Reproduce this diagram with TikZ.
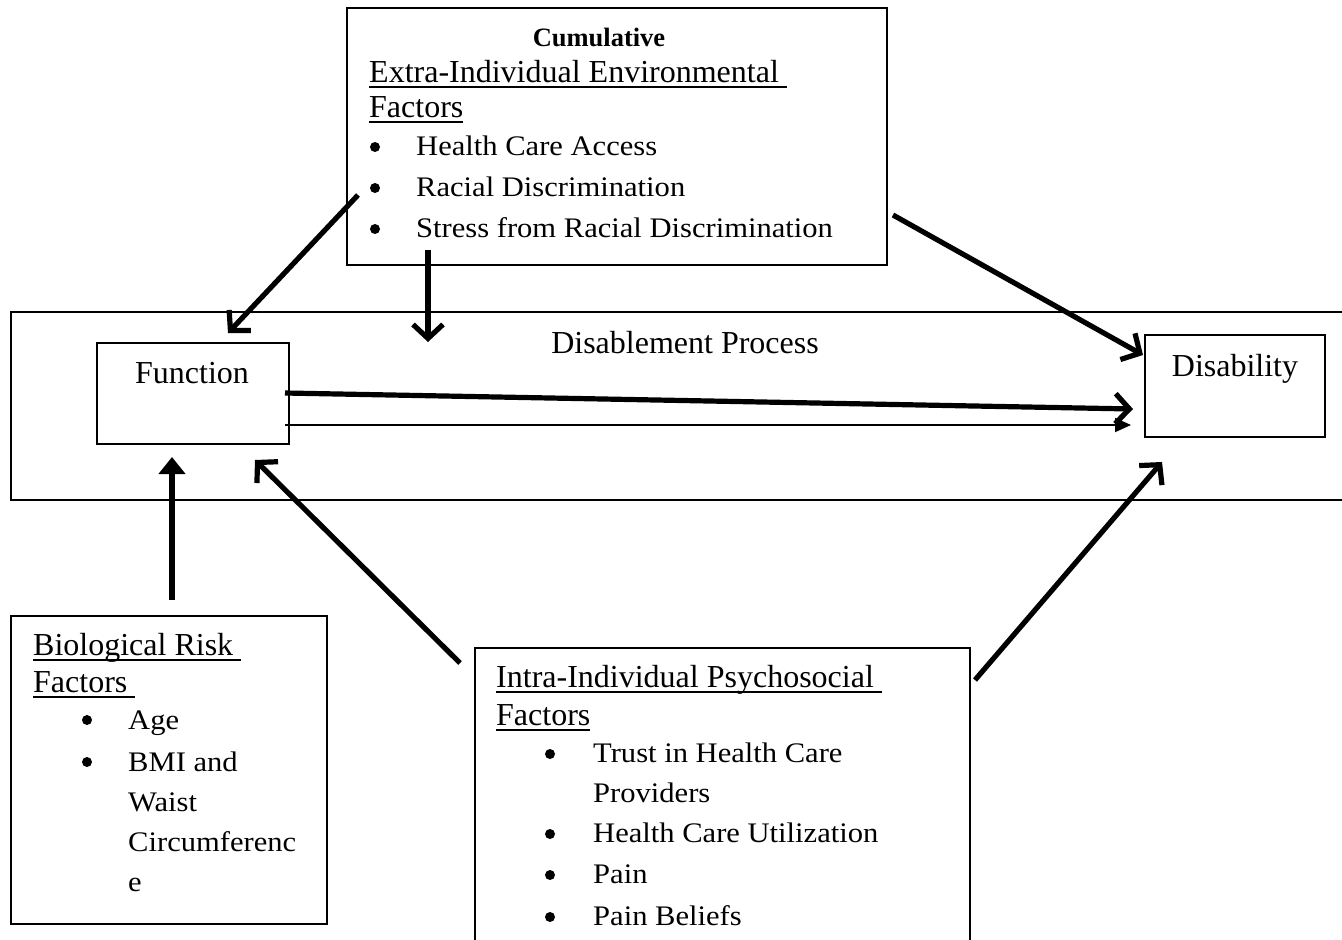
\documentclass[tikz,border=0pt]{standalone}
\usepackage{fontspec}
\setmainfont{Liberation Serif}
\newfontfamily\bodyfont[FakeStretch=1.08]{Liberation Serif}
\usetikzlibrary{arrows.meta}
\newcommand{\ulx}[1]{\setbox0\hbox{#1}\rlap{\rule[-0.19em]{\wd0}{0.065em}}\box0}
\begin{document}
\begin{tikzpicture}[x=1pt,y=-1pt,
  box/.style={draw, line width=1.8pt, inner sep=0pt},
  hd/.style={anchor=base west, inner sep=0pt, font=\fontsize{32}{38}\selectfont},
  hdc/.style={anchor=base, inner sep=0pt, font=\fontsize{32}{38}\selectfont},
  bl/.style={anchor=base west, inner sep=0pt, font=\bodyfont\fontsize{28.3}{34}\selectfont},
  dot/.style={circle, fill, inner sep=0pt, minimum size=10pt},
  barb/.style={line width=5.2pt, -{Straight Barb[length=14pt,width=30pt]}},
  tri/.style={line width=5.2pt, -{Triangle[length=17pt,width=26pt]}},
  thin/.style={line width=1.9pt, -{Triangle[length=16pt,width=14pt]}}]
\useasboundingbox (0,0) rectangle (1342,940);
\clip (0,0) rectangle (1342,940);
\fill[white] (0,0) rectangle (1342,940);
% boxes
\node (top)  [box, minimum width=540pt, minimum height=257pt] at (617,136.5) {};
\node (proc) [box, minimum width=1349pt, minimum height=188pt] at (685.5,406) {};
\node (func) [box, minimum width=192pt, minimum height=101pt] at (193,393.5) {};
\node (dis)  [box, minimum width=180pt, minimum height=102pt] at (1235,386) {};
\node (bio)  [box, minimum width=316pt, minimum height=308pt] at (169,770) {};
\node (psy)  [box, minimum width=495pt, minimum height=312pt] at (722.5,804) {};
% top box text
\node (cum) [anchor=base, inner sep=0pt, font=\bfseries\fontsize{26.5}{32}\selectfont] at (599,46) {Cumulative};
\node (ex1) [hd] at (369,82) {\ulx{Extra-Individual Environmental\ }};
\node (ex2) [hd] at (369,117) {\ulx{Factors}};
\node (d1) [dot] at (375,147) {};
\node (e1) [bl] at (416,155) {Health Care Access};
\node (d2) [dot] at (375,188) {};
\node (e2) [bl] at (416,196) {Racial Discrimination};
\node (d3) [dot] at (375,229) {};
\node (e3) [bl] at (416,237) {Stress from Racial Discrimination};
% process
\node (ptxt) [hdc] at (685,353) {Disablement Process};
\node (ftxt) [hdc] at (192,383) {Function};
\node (dtxt) [hdc] at (1235,376) {Disability};
% bio box text
\node (b1) [hd] at (33,655) {\ulx{Biological Risk\ }};
\node (b2) [hd] at (33,692) {\ulx{Factors\ }};
\node (bd1) [dot] at (87,720) {};
\node (bt1) [bl] at (128,729) {Age};
\node (bd2) [dot] at (87,762) {};
\node (bt2) [bl] at (128,771) {BMI and};
\node (bt3) [bl] at (128,811) {Waist};
\node (bt4) [bl] at (128,851) {Circumferenc};
\node (bt5) [bl] at (128,891) {e};
% psycho box text
\node (p1) [hd] at (496,687) {\ulx{Intra-Individual Psychosocial\ }};
\node (p2) [hd] at (496,725) {\ulx{Factors}};
\node (pd1) [dot] at (550,754) {};
\node (pt1) [bl] at (593,762) {Trust in Health Care};
\node (pt2) [bl] at (593,802) {Providers};
\node (pd2) [dot] at (550,834) {};
\node (pt3) [bl] at (593,842) {Health Care Utilization};
\node (pd3) [dot] at (550,875) {};
\node (pt4) [bl] at (593,883) {Pain};
\node (pd4) [dot] at (550,917) {};
\node (pt5) [bl] at (593,925) {Pain Beliefs};
% connector end points
\coordinate (a1s) at (358,195); \coordinate (a1e) at (228,333);
\coordinate (a2s) at (428,250); \coordinate (a2e) at (428,342);
\coordinate (a3s) at (893,215); \coordinate (a3e) at (1143,355);
\coordinate (a4s) at (285,393); \coordinate (a4e) at (1133,409);
\coordinate (a5s) at (285,425); \coordinate (a5e) at (1131,425);
\coordinate (a6s) at (172,600); \coordinate (a6e) at (172,457);
\coordinate (a7s) at (460,663); \coordinate (a7e) at (255,460);
\coordinate (a8s) at (975,680); \coordinate (a8e) at (1162,462);
% connectors
\draw[barb] (a1s) -- (a1e);
\draw[barb] (a2s) -- (a2e);
\draw[barb] (a3s) -- (a3e);
\draw[barb] (a4s) -- (a4e);
\draw[thin] (a5s) -- (a5e);
\draw[tri]  (a6s) -- (a6e);
\draw[barb] (a7s) -- (a7e);
\draw[barb] (a8s) -- (a8e);
\end{tikzpicture}
\end{document}
